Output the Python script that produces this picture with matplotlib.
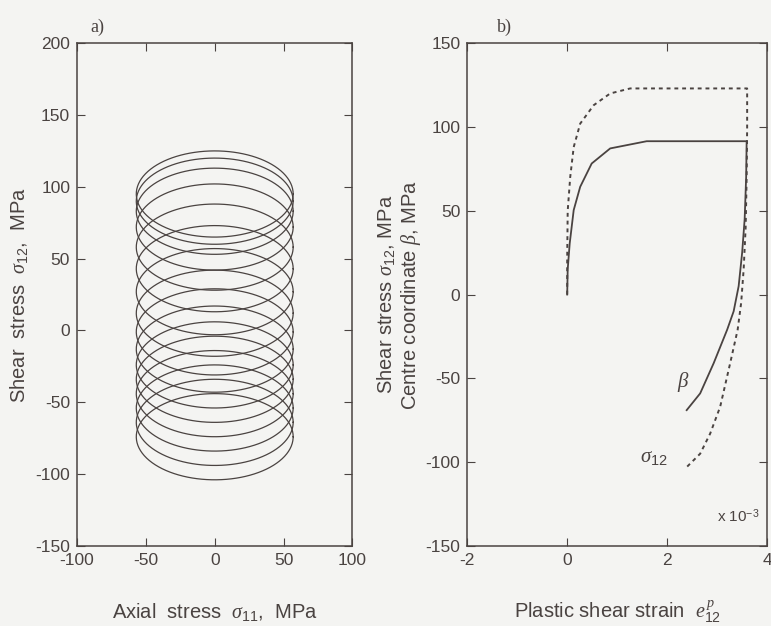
import numpy as np
import matplotlib
matplotlib.use("Agg")
import matplotlib.pyplot as plt

plt.rcParams['font.family'] = ['Liberation Sans', 'DejaVu Sans']
plt.rcParams['mathtext.fontset'] = 'custom'
plt.rcParams['mathtext.it'] = 'Liberation Serif:italic'
plt.rcParams['mathtext.rm'] = 'Liberation Sans'
plt.rcParams['axes.unicode_minus'] = False

INK = '#4a4341'
BG = '#f4f4f2'

# panel a: loop centres (sigma12 mean) and radii, MPa
loop_centres = [-74, -64, -54, -44, -34, -24, -13, -1, 12, 27, 43, 58, 72, 83, 90, 95]
loop_rx = 57
loop_ry = 30

# panel b: curves (strain in 1e-3, stress in MPa)
beta_x = [0, 0.01, 0.05, 0.13, 0.26, 0.49, 0.86, 1.59, 3.59,
          3.58, 3.55, 3.5, 3.43, 3.33, 3.2, 2.93, 2.66, 2.39]
beta_y = [0, 15, 30.5, 50.4, 64.3, 78.2, 87.2, 91.5, 91.5,
          70, 45, 25, 5, -10, -21, -41, -59, -69]
sig_x = [0, 0.0, 0.01, 0.06, 0.13, 0.26, 0.53, 0.86, 1.26, 3.6,
         3.6, 3.59, 3.57, 3.53, 3.48, 3.41, 3.26, 3.06, 2.86, 2.66, 2.39]
sig_y = [0, 22, 50, 70, 88, 102, 113, 120, 123, 123,
         100, 70, 40, 15, -5, -21, -41, -67, -83, -95, -103]

fig = plt.figure(figsize=(7.71, 6.26), dpi=100, facecolor=BG)
axa = fig.add_axes([0.100, 0.128, 0.357, 0.803])
axb = fig.add_axes([0.606, 0.128, 0.389, 0.803])

for ax in (axa, axb):
    ax.set_facecolor(BG)
    ax.tick_params(direction='in', top=True, right=True, length=6,
                   colors=INK, labelsize=12.5, pad=5)
    for s in ax.spines.values():
        s.set_color(INK)
        s.set_linewidth(1.1)

# panel a
t = np.linspace(0, 2 * np.pi, 200)
for c in loop_centres:
    axa.plot(loop_rx * np.cos(t), c + loop_ry * np.sin(t), color=INK, lw=0.9)
axa.set_xlim(-100, 100)
axa.set_ylim(-150, 200)
axa.set_xticks([-100, -50, 0, 50, 100])
axa.set_yticks([-150, -100, -50, 0, 50, 100, 150, 200])
axa.set_xlabel(r'Axial  stress  $\sigma_{11}$,  MPa', fontsize=14.5, color=INK, labelpad=24)
axa.set_ylabel(r'Shear  stress  $\sigma_{12}$,  MPa', fontsize=14.5, color=INK, labelpad=4)
axa.text(0.05, 1.015, 'a)', transform=axa.transAxes, fontsize=13, color=INK,
         family='Liberation Serif', va='bottom')

# panel b
axb.plot(beta_x, beta_y, color=INK, lw=1.3)
axb.plot(sig_x, sig_y, color=INK, lw=1.4, linestyle=(0, (2, 2)))
axb.set_xlim(-2, 4)
axb.set_ylim(-150, 150)
axb.set_xticks([-2, 0, 2, 4])
axb.set_yticks([-150, -100, -50, 0, 50, 100, 150])
axb.set_xlabel(r'Plastic shear strain  $e^{\,p}_{12}$', fontsize=14.5, color=INK, labelpad=22)
axb.set_ylabel('Shear stress $\\sigma_{12}$, MPa\nCentre coordinate $\\beta$, MPa',
               fontsize=14.5, color=INK, labelpad=2, linespacing=1.1)
axb.text(2.2, -55, r'$\beta$', fontsize=15, color=INK)
axb.text(1.45, -100, r'$\sigma_{12}$', fontsize=15, color=INK)
axb.text(3.0, -136, r'x 10$^{-3}$', fontsize=11, color=INK)
axb.text(0.1, 1.015, 'b)', transform=axb.transAxes, fontsize=13, color=INK,
         family='Liberation Serif', va='bottom')

fig.savefig('out.png', dpi=100, facecolor=BG)
